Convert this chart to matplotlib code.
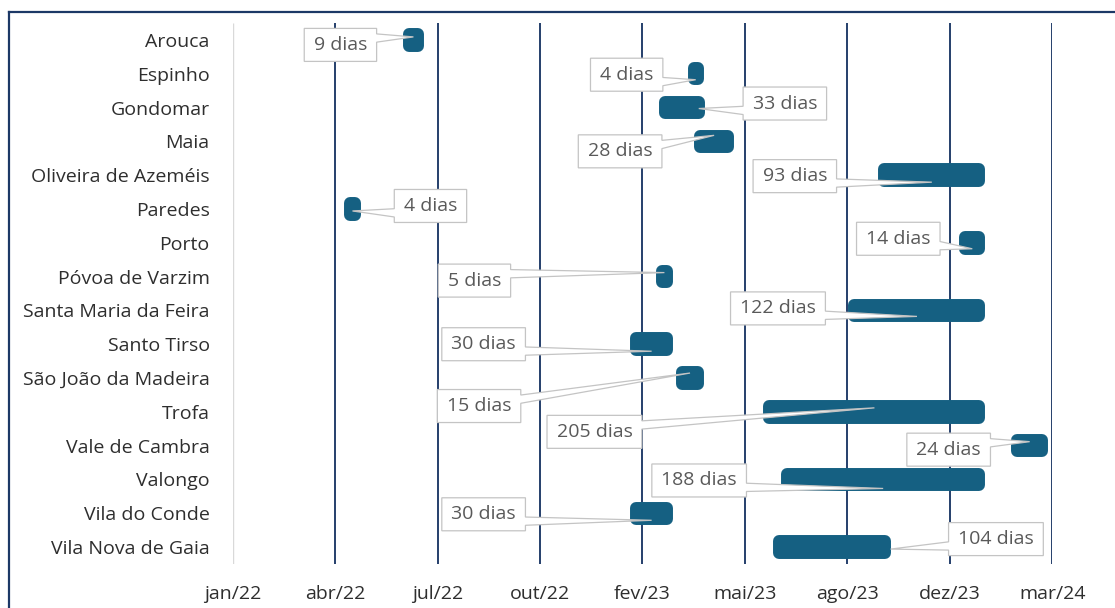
import numpy as np
import matplotlib
matplotlib.use("Agg")
import matplotlib.pyplot as plt
from matplotlib.patches import Polygon
from matplotlib.lines import Line2D
from matplotlib.transforms import IdentityTransform

# ---- data -------------------------------------------------------------
municipios = [
    "Arouca", "Espinho", "Gondomar", "Maia", "Oliveira de Azeméis",
    "Paredes", "Porto", "Póvoa de Varzim", "Santa Maria da Feira",
    "Santo Tirso", "São João da Madeira", "Trofa", "Vale de Cambra",
    "Valongo", "Vila do Conde", "Vila Nova de Gaia",
]
inicio = np.array([
    "2022-06-22", "2023-03-27", "2023-02-27", "2023-04-02", "2023-09-29",
    "2022-04-26", "2023-12-17", "2023-02-24", "2023-08-31",
    "2023-01-30", "2023-03-16", "2023-06-09", "2024-02-06",
    "2023-06-26", "2023-01-30", "2023-06-18",
], dtype="datetime64[D]")
duracao = np.array([9, 4, 33, 28, 93, 4, 14, 5, 122, 30, 15, 205, 24, 188, 30, 104])
tick_labels = ["jan/22", "abr/22", "jul/22", "out/22", "fev/23",
               "mai/23", "ago/23", "dez/23", "mar/24"]

# ---- callout layout (pixels relative to each bar's centre) --------------
label_offset = [(-73, 5), (-69, 1), (103, -4), (-94, 10), (-137, 1),
                (78, -3), (-74, -4), (-190, 4), (-139, -2),
                (-168, 0), (-211, 28), (-280, 20), (-81, 4),
                (-184, 1), (-168, 1), (164, -8)]
tip_frac = [0.5, 0.5, 1.0, 0.5, 0.5, 0.5, 0.5, 0.5, 0.5,
            0.5, 0.5, 0.5, 0.5, 0.5, 0.5, 1.05]
tip_dy = [-3, 6, 1, -6, 7, 2, 6, -4, 6, 7, -5, -4, -4, 9, 7, 2]

# ---- style ---------------------------------------------------------------
W, H, DPI = 1115, 608, 100
BAR = "#156082"
NAVY = "#1c3866"
TXT = "#2e2e2e"
LBL = "#595959"
FONT = ["Open Sans", "DejaVu Sans"]
plt.rcParams["font.family"] = FONT

origem = np.datetime64("2022-01-01")
passo = 100
inicio_d = (inicio - origem).astype(int)
n = len(municipios)
yy = np.arange(n)
ticks = np.arange(len(tick_labels)) * passo

fig = plt.figure(figsize=(W / DPI, H / DPI), dpi=DPI)
ax_l, ax_r, ax_t, ax_b = 232.6, 1052.2, 23.0, 564.0
ax = fig.add_axes([ax_l / W, 1 - ax_b / H, (ax_r - ax_l) / W, (ax_b - ax_t) / H])
ax.set_xlim(ticks[0], ticks[-1])
ax.set_ylim(n - 0.5, -0.5)
for s in ax.spines.values():
    s.set_visible(False)

# gridlines and value axis line
ax.vlines(ticks[1:], -0.5, n - 0.5, color=NAVY, lw=1.35, zorder=1)
ax.vlines([ticks[0]], -0.5, n - 0.5, color="#d9d9d9", lw=1.0, zorder=1)

ax.barh(yy, duracao, left=inicio_d, height=0.34, color=BAR, edgecolor=BAR,
        linewidth=8.6, joinstyle="round", zorder=3, clip_on=False)

ax.set_yticks(yy, municipios)
ax.set_xticks(ticks, tick_labels)
ax.tick_params(axis="both", length=0, labelsize=14, labelcolor=TXT)
ax.tick_params(axis="y", pad=16.5)
ax.tick_params(axis="x", pad=15)

# chart frame
fig.add_artist(Line2D([9, 9], [0, H - 12], transform=IdentityTransform(),
                      color=NAVY, lw=1.6))
fig.add_artist(Line2D([9, W], [H - 12, H - 12], transform=IdentityTransform(),
                      color=NAVY, lw=1.6))

# ---- data callouts --------------------------------------------------------
fig.canvas.draw()
renderer = fig.canvas.get_renderer()
BOX_H = 33.0


def to_px(xd, yd):
    px, py = ax.transData.transform((xd, yd))
    return px, H - py


for i in range(n):
    cx0, cy0 = to_px(inicio_d[i] + duracao[i] / 2, yy[i])
    tx, ty = to_px(inicio_d[i] + duracao[i] * tip_frac[i], yy[i])
    ty += tip_dy[i]
    cx, cy = cx0 + label_offset[i][0], cy0 + label_offset[i][1]

    txt = fig.text(0, 0, f"{duracao[i]} dias", fontsize=14, color=LBL,
                   ha="center", va="center", zorder=11)
    tw = txt.get_window_extent(renderer).width
    bw = tw + 19
    l, r, t, b = cx - bw / 2, cx + bw / 2, cy - BOX_H / 2, cy + BOX_H / 2

    # rectangular callout with wedge tail
    dx, dy = tx - cx, ty - cy
    if abs(dy) > abs(dx * BOX_H / bw):
        fx = (7, 10) if dx > 0 else (2, 5)
        xa, xb = l + bw * fx[0] / 12, l + bw * fx[1] / 12
        if dy > 0:
            pts = [(l, t), (r, t), (r, b), (xb, b), (tx, ty), (xa, b), (l, b)]
        else:
            pts = [(l, t), (xa, t), (tx, ty), (xb, t), (r, t), (r, b), (l, b)]
    else:
        fy = (7, 10) if dy > 0 else (2, 5)
        ya, yb = t + BOX_H * fy[0] / 12, t + BOX_H * fy[1] / 12
        if dx > 0:
            pts = [(l, t), (r, t), (r, ya), (tx, ty), (r, yb), (r, b), (l, b)]
        else:
            pts = [(l, t), (r, t), (r, b), (l, b), (l, yb), (tx, ty), (l, ya)]
    pts = [(px, H - py) for px, py in pts]
    fig.add_artist(Polygon(pts, closed=True, transform=IdentityTransform(),
                           facecolor="white", edgecolor="#c4c4c4", lw=0.9,
                           zorder=10))
    txt.set_transform(IdentityTransform())
    txt.set_position((cx, H - cy))

fig.savefig("out.png", dpi=DPI)
